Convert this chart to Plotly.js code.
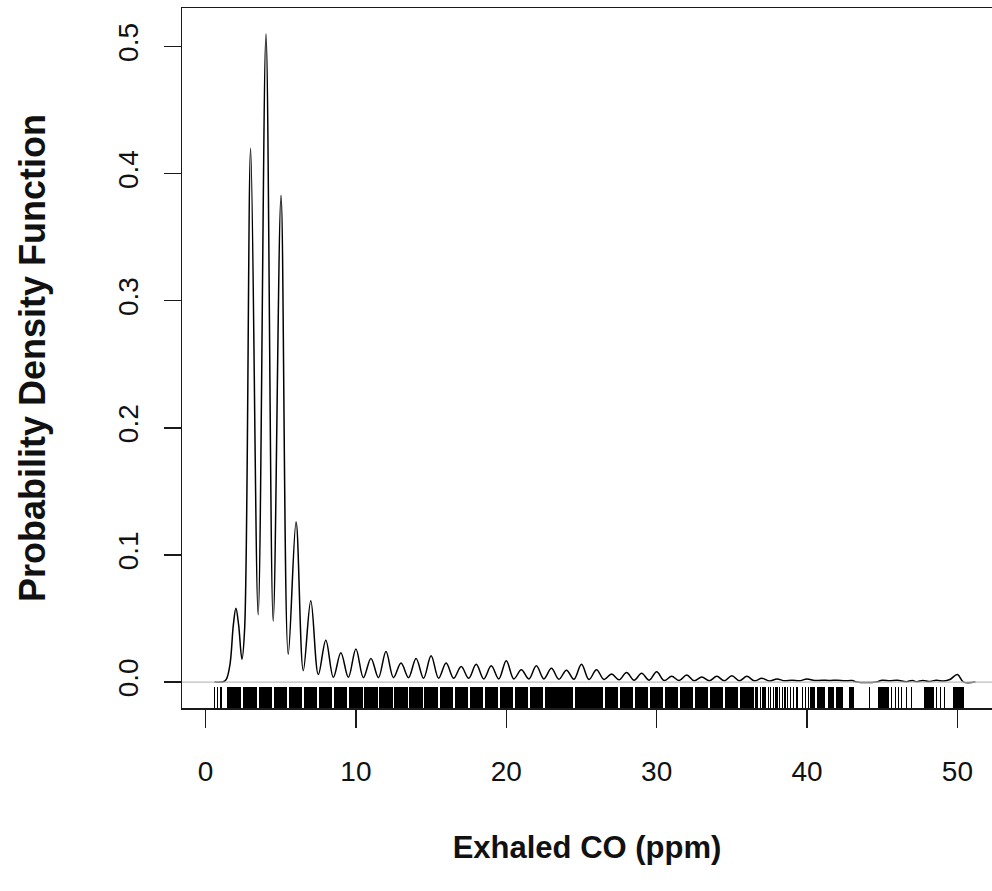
<!DOCTYPE html>
<html>
<head>
<meta charset="utf-8">
<script src="https://cdn.plot.ly/plotly-3.0.1.min.js"></script>
<style>
html,body{margin:0;padding:0;background:#fff;overflow:hidden;}
#chart{width:992px;height:891px;}
</style>
</head>
<body>
<div id="chart"></div>
<script>
// Density curve of exhaled CO (ppm) (peaks near integers, troughs between)
const densX = [0.6, 1.3, 1.6, 1.85, 2.02, 2.2, 2.42, 2.6, 3.0, 3.5, 4.02, 4.5, 5.02, 5.5, 6.02, 6.5, 7.0, 7.5,
  8, 8.5, 9, 9.5, 10, 10.5, 11, 11.5, 12, 12.5, 13, 13.5, 14, 14.5, 15, 15.5, 16, 16.5, 17, 17.5, 18, 18.5,
  19, 19.5, 20, 20.5, 21, 21.5, 22, 22.5, 23, 23.5, 24, 24.5, 25, 25.5, 26, 26.5, 27, 27.5, 28, 28.5,
  29, 29.5, 30, 30.5, 31, 31.5, 32, 32.5, 33, 33.5, 34, 34.5, 35, 35.5, 36, 36.5, 37, 37.5, 38, 38.5,
  39, 39.5, 40, 40.5, 41, 41.5, 42, 42.5, 43, 43.3, 44.6, 45, 45.5, 46, 46.6, 47, 47.3, 47.7, 48.1, 48.6,
  49.1, 49.5, 50, 50.4, 51.2];
const densY = [0, 0.001, 0.012, 0.045, 0.058, 0.045, 0.018, 0.042, 0.42, 0.053, 0.51, 0.048, 0.383, 0.022, 0.126, 0.009, 0.064, 0.006,
  0.033, 0.0037, 0.023, 0.0037, 0.026, 0.0035, 0.0186, 0.0035, 0.024, 0.0035, 0.015, 0.0035, 0.0186, 0.003, 0.0207, 0.003, 0.015, 0.003, 0.0123, 0.003, 0.014, 0.0025,
  0.0128, 0.0025, 0.0168, 0.0025, 0.0097, 0.0025, 0.0128, 0.0025, 0.0108, 0.0022, 0.0094, 0.0022, 0.014, 0.002, 0.0097, 0.002, 0.0063, 0.0018, 0.0076, 0.0015,
  0.007, 0.0015, 0.0081, 0.0012, 0.0045, 0.0012, 0.0055, 0.001, 0.004, 0.001, 0.0045, 0.001, 0.005, 0.001, 0.0045, 0.001, 0.003, 0.0008, 0.0025, 0.001,
  0.0015, 0.001, 0.0025, 0.0012, 0.0015, 0.0012, 0.0015, 0.001, 0.0012, 0, 0, 0.0015, 0.001, 0.0015, 0.0003, 0.0012, 0.0003, 0.0013, 0.0005, 0.0014,
  0.0008, 0.002, 0.006, 0, 0];

// Rug: spans of (jittered) observations along the x axis, start and end in ppm
const rugFrom = [0.58, 0.76, 0.94, 1.42, 2.46, 3.56, 4.56, 5.56, 6.56, 7.56, 8.56, 9.56, 10.56, 11.56, 12.56, 13.56,
  14.56, 15.56, 16.56, 17.56, 18.56, 19.56, 20.56, 21.56, 22.56, 24.56, 26.56, 27.56, 28.56, 29.56, 30.56, 31.56,
  32.56, 33.56, 34.56, 35.56, 36.56, 36.85, 37.02, 37.38, 37.55, 37.72, 37.9, 38.15, 38.32, 38.48, 38.7, 38.85,
  39.05, 39.25, 39.5, 39.68, 39.85, 40.05, 40.2, 40.65, 41.42, 41.93, 42.82, 44.12, 44.75, 45.6, 45.83, 46.05,
  46.27, 46.6, 46.94, 47.75, 48.6, 48.83, 49.09, 49.7];
const rugTo = [0.66, 0.84, 1.10, 2.38, 3.44, 4.44, 5.44, 6.44, 7.44, 8.44, 9.44, 10.44, 11.44, 12.44, 13.44, 14.44,
  15.44, 16.44, 17.44, 18.44, 19.44, 20.44, 21.44, 22.44, 24.44, 26.44, 27.44, 28.44, 29.44, 30.44, 31.44, 32.44,
  33.44, 34.44, 35.44, 36.44, 36.75, 36.95, 37.28, 37.45, 37.62, 37.8, 38.05, 38.22, 38.38, 38.6, 38.76, 38.95,
  39.12, 39.4, 39.56, 39.75, 39.95, 40.1, 40.55, 41.2, 41.76, 42.42, 43.13, 44.18, 45.42, 45.67, 45.9, 46.1,
  46.33, 46.67, 47.0, 48.41, 48.66, 48.89, 49.15, 50.45];

const xTicks = [0, 10, 20, 30, 40, 50];
const yTicks = [0.0, 0.1, 0.2, 0.3, 0.4, 0.5];
const xTitle = 'Exhaled CO (ppm)';
const yTitle = 'Probability Density Function';

const yMin = -0.0204, yMax = 0.5304;
const rugLen = 0.0165;

const rugX = rugFrom.map((a, i) => (a + rugTo[i]) / 2);
const rugW = rugFrom.map((a, i) => rugTo[i] - a);

const ink = '#1a1a1a';
const fam = 'Liberation Sans, Arial, Helvetica, sans-serif';

const traces = [
  {
    type: 'bar', x: rugX, width: rugW, y: rugX.map(() => rugLen), base: yMin,
    marker: {color: '#000', line: {width: 0}}, hoverinfo: 'skip', showlegend: false
  },
  {
    type: 'scatter', mode: 'lines', x: densX, y: densY,
    line: {color: '#000', width: 1.5, shape: 'spline', smoothing: 1},
    hoverinfo: 'skip', showlegend: false
  }
];

const layout = {
  width: 992, height: 891,
  margin: {l: 182, r: 0, t: 8, b: 183},
  paper_bgcolor: '#fff', plot_bgcolor: '#fff',
  showlegend: false,
  bargap: 0,
  xaxis: {
    range: [-1.565, 52.3], tickvals: xTicks, ticktext: xTicks.map(String),
    ticks: 'outside', ticklen: 18, tickwidth: 1.3, tickcolor: ink,
    ticklabelstandoff: 20,
    showline: true, linecolor: ink, linewidth: 1.5, mirror: true,
    showgrid: false, zeroline: false,
    tickfont: {family: fam, size: 28, color: '#111'},
    title: {text: xTitle, font: {family: fam, size: 31, color: '#111', weight: 'bold'}, standoff: 50}
  },
  yaxis: {
    range: [yMin, yMax], tickvals: yTicks, ticktext: yTicks.map(v => v.toFixed(1)),
    tickangle: -90,
    ticks: 'outside', ticklen: 17, tickwidth: 1.3, tickcolor: ink,
    ticklabelstandoff: 14,
    showline: true, linecolor: ink, linewidth: 1.5, mirror: false,
    showgrid: false, zeroline: false,
    tickfont: {family: fam, size: 28, color: '#111'},
    title: {text: yTitle, font: {family: fam, size: 36, color: '#111', weight: 'bold'}, standoff: 56}
  },
  shapes: [
    {type: 'line', xref: 'paper', yref: 'y', x0: 0, x1: 1, y0: 0, y1: 0,
     line: {color: '#bebebe', width: 1.3}, layer: 'above'}
  ]
};

Plotly.newPlot('chart', traces, layout, {staticPlot: true, displayModeBar: false});
</script>
</body>
</html>
